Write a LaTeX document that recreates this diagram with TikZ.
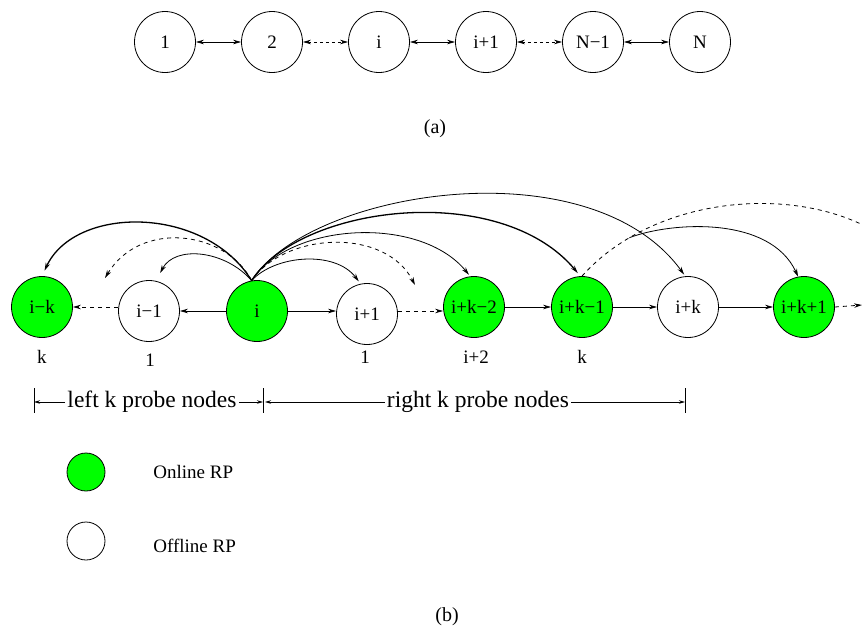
\documentclass[tikz,border=0pt]{standalone}
\usepackage{fontspec}
\setmainfont{Liberation Serif}
\usetikzlibrary{arrows.meta}
\definecolor{rpgreen}{RGB}{0,255,0}
\begin{document}
\begin{tikzpicture}[x=1pt,y=-1pt,line width=0.8pt,
  rp/.style={circle,draw,minimum size=61pt,inner sep=0pt,font=\fontsize{19}{22}\selectfont},
  onrp/.style={rp,fill=rpgreen},
  offrp/.style={rp,fill=white},
  keyrp/.style={circle,draw,minimum size=38pt,inner sep=0pt},
  tip/.style={-{Stealth[length=8pt,width=4.5pt]}},
  bothtip/.style={{Stealth[length=8pt,width=4.5pt]}-{Stealth[length=8pt,width=4.5pt]}},
  smalltip/.style={-{Stealth[length=6pt,width=3.5pt]}},
  dots/.style={dash pattern=on 3pt off 3pt},
  dsh/.style={dash pattern=on 4pt off 4pt},
  heavy/.style={line width=1.3pt},
  lbl/.style={font=\fontsize{19}{22}\selectfont},
  figcap/.style={font=\fontsize{20}{24}\selectfont},
  brk/.style={font=\fontsize{23.5}{28}\selectfont,inner sep=2pt},
  keytext/.style={font=\fontsize{19}{22}\selectfont,anchor=west,inner sep=0pt}]
\useasboundingbox (0,0) rectangle (863,630);

% ---------- (a) linear chain ----------
\node[offrp] (t1) at (165,42) {1};
\node[offrp] (t2) at (272,42) {2};
\node[offrp] (t3) at (379,42) {i};
\node[offrp] (t4) at (486,42) {i+1};
\node[offrp] (t5) at (593,42) {N−1};
\node[offrp] (t6) at (700,42) {N};
\draw[bothtip] (t1) -- (t2);
\draw[bothtip,dots] (t2) -- (t3);
\draw[bothtip] (t3) -- (t4);
\draw[bothtip,dots] (t4) -- (t5);
\draw[bothtip] (t5) -- (t6);
\node[figcap] (capa) at (435,129) {(a)};

% ---------- (b) probe chain ----------
\node[onrp]  (ik)   at (42,307)  {i−k};
\node[offrp] (im1)  at (149,311) {i−1};
\node[onrp]  (i)    at (257,311) {i};
\node[offrp] (ip1)  at (367,314) {i+1};
\node[onrp]  (ik2)  at (474,307) {i+k−2};
\node[onrp]  (ik1)  at (582,307) {i+k−1};
\node[offrp] (ipk)  at (688,307) {i+k};
\node[onrp]  (ikp1) at (804,307) {i+k+1};

\node[lbl] (w1) at (42,357)  {k};
\node[lbl] (w2) at (150,360) {1};
\node[lbl] (w3) at (365,357) {1};
\node[lbl] (w4) at (476,357) {i+2};
\node[lbl] (w5) at (582,357) {k};

\coordinate (dl) at (105,278);
\coordinate (dr) at (415,285);
\coordinate (far) at (862,305);
\coordinate (edge) at (863,225);

% neighbours on the line
\draw[tip] (i) -- (im1);
\draw[tip,dsh] ([yshift=4pt]im1.west) -- (ik.east);
\draw[tip] (i.east) -- ([yshift=3pt]ip1.west);
\draw[tip,dsh] ([yshift=3pt]ip1.east) -- ([yshift=-4pt]ik2.west);
\draw[tip] (ik2) -- (ik1);
\draw[tip] (ik1) -- (ipk);
\draw[tip] (ipk) -- (ikp1);
\draw[tip,dsh] (ikp1.east) -- (far);

% probes to the left
\draw[tip,heavy,shorten >=6pt] (i.100) .. controls (205,205) and (75,205) .. (ik.north);
\draw[tip,dsh] (i.100) .. controls (225,230) and (140,220) .. (dl);
\draw[tip,shorten >=9pt] (i.100) .. controls (225,250) and (175,245) .. (im1.77);

% probes to the right
\draw[tip,shorten >=3pt] (i.100) .. controls (275,255) and (335,250) .. (ip1.102);
\draw[tip,dsh] (i.100) .. controls (285,232) and (385,227) .. (dr);
\draw[tip,shorten >=2pt] (i.100) .. controls (290,222) and (420,215) .. (ik2.97);
\draw[tip,heavy,shorten >=4pt] (i.100) .. controls (300,205) and (500,180) .. (ik1.93);
\draw[tip,shorten >=2pt] (i.100) .. controls (310,190) and (590,145) .. (ipk.95);

% probes from i+k-1
\draw[dsh] (ik1.north) .. controls (650,200) and (780,185) .. coordinate[pos=0.2] (fork) (edge);
\draw[tip] (fork) .. controls (670,222) and (770,215) .. (ikp1.101);

% probe ranges
\coordinate (bl) at (34,402);
\coordinate (bm) at (263,402);
\coordinate (br) at (685,402);
\draw (34,388) -- (34,413);
\draw (263,388) -- (263,413);
\draw (685,388) -- (685,413);
\node[brk] (lt) at (152,402) {left k probe nodes};
\node[brk] (rt) at (478,402) {right k probe nodes};
\draw[smalltip] (lt.west) -- (bl);
\draw[smalltip] (lt.east) -- (bm);
\draw[smalltip] (rt.west) -- ([xshift=2pt]bm);
\draw[smalltip] (rt.east) -- (br);

% key
\node[keyrp,fill=rpgreen] (kon) at (86,472) {};
\node[keyrp,fill=white] (koff) at (86,541) {};
\node[keytext] (kont) at (153,472) {Online RP};
\node[keytext] (kofft) at (153,546) {Offline RP};

\node[figcap] (capb) at (447,617) {(b)};
\end{tikzpicture}
\end{document}
